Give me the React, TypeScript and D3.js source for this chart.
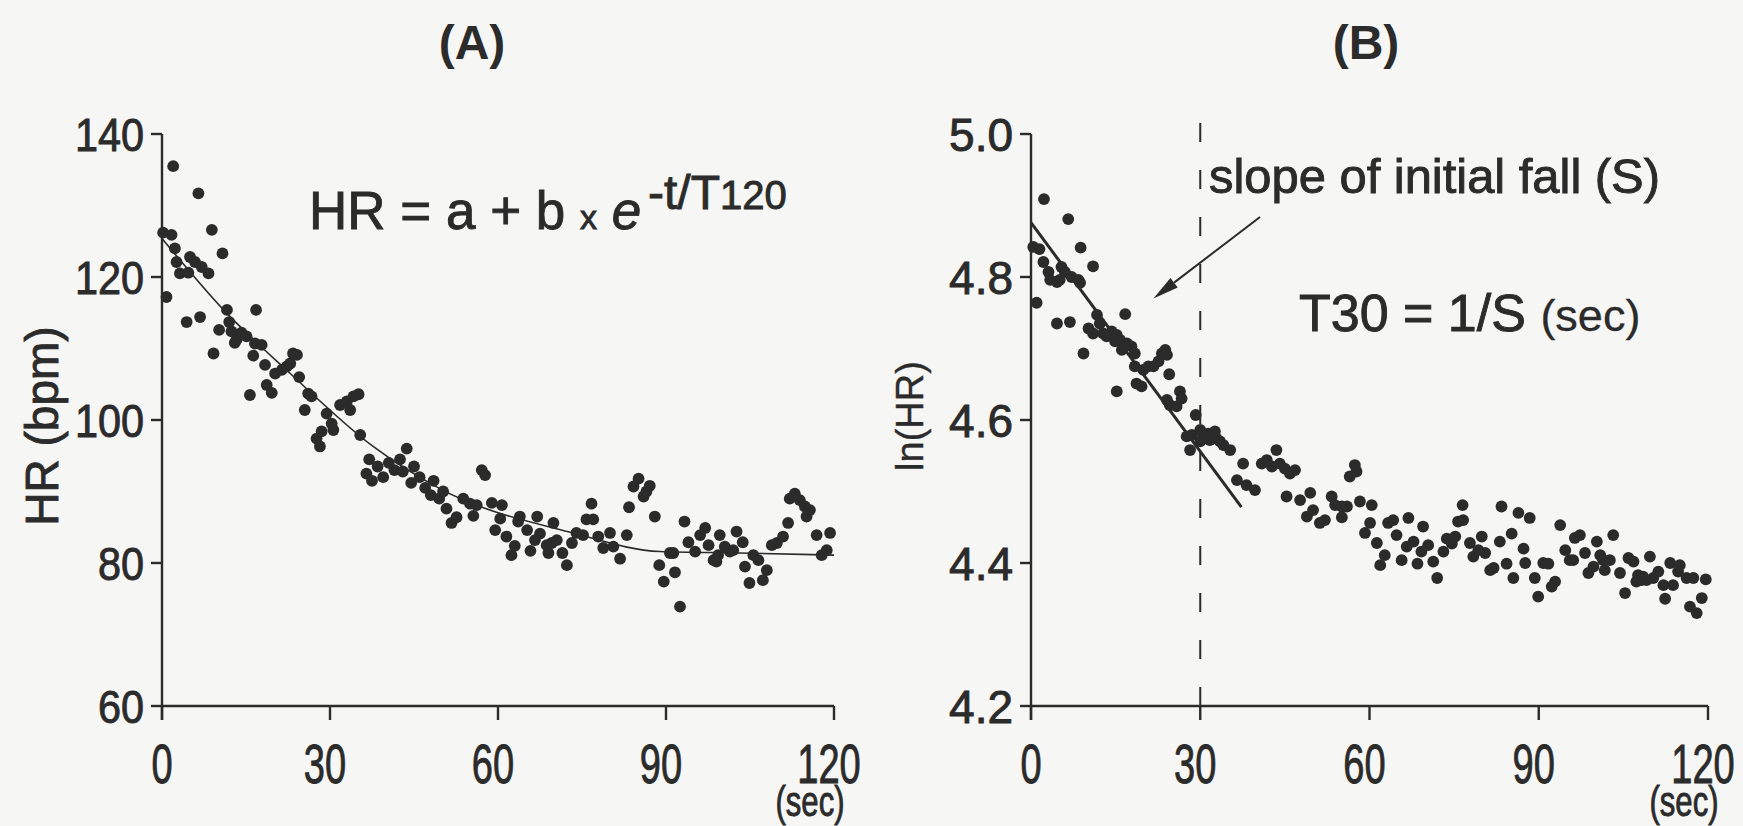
import React from "react";
import * as d3 from "d3";

// ---------- Data ----------
// Panel A: heart rate (bpm) vs time (sec)
const aTime = [
  2.0, 6.5, 8.9, 10.8, 0.2, 1.7, 2.3, 2.6, 3.2, 5.0, 4.7, 5.9, 7.1, 8.3, 0.8, 4.4, 6.8, 9.2, 11.6, 12.0,
  16.8, 10.2, 12.4, 13.3, 14.2, 15.1, 13.0, 16.6, 17.8, 16.3, 18.4, 15.7, 18.7, 19.6, 20.2, 21.4, 22.3, 23.4,
  24.1, 22.9, 24.5, 26.1, 26.7, 25.5, 29.4, 30.3, 30.6, 31.8, 33.0, 34.2, 35.1, 33.6, 35.4, 28.5, 27.6, 28.2,
  43.7, 36.5, 37.5, 38.5, 39.5, 40.5, 41.5, 42.5, 43.0, 44.5, 45.0, 46.0, 47.0, 48.0, 48.5, 49.5, 37.0,
  50.2, 50.8, 51.7, 52.6, 53.8, 55.0, 56.2, 55.6, 57.1, 57.7, 58.9, 60.7, 59.5, 60.4, 61.5, 62.4, 63.0, 63.9,
  63.6, 65.2, 65.8, 67.0, 67.5, 66.6, 69.0, 68.7, 69.9, 69.6, 70.5, 71.5, 72.3, 73.2, 74.0, 75.2, 75.8, 77.0,
  76.7, 77.9, 78.8, 80.0, 80.6, 81.8, 83.0, 83.4, 84.2, 85.1, 86.0, 87.1, 86.5, 88.0, 88.8, 89.6, 90.7, 91.3,
  91.6, 92.5, 93.3, 94.0, 95.2, 96.1, 97.0, 97.6, 98.5, 99.6, 100.5, 101.4, 102.0, 99.3, 99.0, 102.6,
  103.7, 104.1, 104.9, 105.6, 106.5, 107.3, 108.0, 108.9, 109.8, 110.9, 111.8, 112.1, 113.0, 113.9, 114.8,
  115.7, 115.1, 116.9, 119.3, 117.8, 118.7,
];
const aHR = [
  135.5, 131.7, 126.6, 123.3, 126.2, 125.9, 124.0, 122.1, 120.5, 122.8, 120.6, 122.1, 121.4, 120.5, 117.2, 113.7,
  114.4, 109.3, 115.4, 113.7, 115.4, 112.6, 112.4, 111.2, 112.2, 111.7, 110.8, 110.7, 110.5, 109.0, 107.7, 103.5,
  104.9, 103.8, 106.5, 107.0, 107.5, 109.3, 109.1, 107.9, 106.0, 103.7, 103.3, 101.4, 100.9, 99.5, 98.6, 102.1,
  102.6, 103.3, 103.6, 101.4, 97.9, 98.4, 97.4, 96.3,
  96.0, 92.5, 91.5, 93.5, 92.0, 94.0, 93.0, 94.5, 92.8, 91.2, 93.5, 92.0, 90.5, 89.5, 91.5, 89.0, 94.5,
  90.0, 87.6, 85.6, 86.4, 89.0, 88.3, 88.1, 86.6, 93.0, 92.3, 88.4, 88.1, 84.6, 86.2, 83.7, 81.1, 82.4, 86.5,
  85.8, 84.6, 81.7, 86.5, 84.1, 83.2, 81.4, 82.5, 85.6, 82.8, 83.2, 81.4, 79.7, 82.8, 84.2, 83.9, 86.1, 86.1,
  88.3, 83.7, 82.1, 84.2, 82.3, 80.6, 83.9, 87.8, 90.7, 91.8, 89.3, 90.8, 90.0, 86.5, 79.7, 77.4, 81.4, 81.4,
  78.7, 73.9, 85.8, 82.9, 81.6, 83.9, 84.9, 82.5, 80.4, 83.9, 82.3, 81.6, 81.8, 81.1, 80.2, 84.4,
  82.9, 79.5, 77.2, 81.1, 80.4, 77.6, 79.0, 82.5, 82.8, 83.7, 85.6, 89.0, 89.7, 88.8, 87.9,
  87.4, 86.5, 83.9, 84.2, 81.1, 81.8,
];
// fitted exponential curve
const aFitTime = [0, 11, 22.9, 37.7, 49.6, 73.4, 88.9, 103, 120];
const aFitHR = [125.4, 115.4, 106.5, 96.3, 90.4, 84.2, 81.6, 81.4, 81.1];

// Panel B: ln(HR) vs time (sec)
const bTime = [
  2.3, 6.6, 8.8, 11.0, 0.4, 1.5, 2.2, 3.1, 3.4, 4.6, 5.1, 5.4, 6.0, 7.2, 8.4, 8.7, 1.0, 4.6, 6.9, 9.3, 16.7,
  10.2, 11.0, 11.7, 12.2, 12.8, 13.4, 14.3, 15.2, 14.9, 15.8, 16.1, 17.0, 17.8, 18.4, 15.2, 18.4, 18.7, 19.6,
  19.9, 20.8, 21.7, 22.6, 23.2, 23.8, 24.1, 24.5, 24.1, 24.6, 26.4, 26.7, 25.8, 29.2, 27.6, 28.5, 28.2, 30.0,
  30.5, 30.0, 31.4, 31.7, 32.6, 32.9, 33.5, 34.1, 35.3, 36.5, 37.6, 38.2, 39.7, 40.9, 41.8, 43.5, 42.7, 44.1,
  45.0, 45.9, 46.8, 45.3, 47.7, 49.5, 48.9, 50.0, 51.2, 52.1,
  53.3, 53.9, 55.1, 56.0, 55.1, 56.5, 57.4, 57.7, 58.3, 60.4, 59.2, 60.1, 61.3, 62.7, 61.9, 63.3, 64.2, 64.8,
  65.7, 66.9, 66.6, 67.8, 69.5, 69.2, 70.4, 68.5, 71.3, 72.0, 73.1, 73.7, 74.6, 75.2, 75.7, 76.6, 76.5, 77.8,
  78.4, 79.3, 79.9, 80.5, 81.4, 82.0, 83.1, 83.4, 85.2, 84.3, 85.5, 86.4, 87.3, 87.6, 88.4, 89.3, 89.9, 90.8,
  91.7, 92.3, 92.9, 93.8, 94.7, 95.5, 96.1, 96.4, 97.3, 98.2, 98.8, 99.7, 100.3, 100.9, 101.4, 101.7, 102.6,
  103.2, 104.4, 105.3, 105.9, 106.8, 107.6, 107.3, 108.2, 108.5, 109.1, 109.7, 110.3, 111.2, 112.1, 112.4,
  113.8, 113.3, 115.0, 114.7, 116.2, 117.4, 119.6, 116.8, 118.0, 118.9,
];
const bLnHR = [
  4.909, 4.881, 4.841, 4.815, 4.842, 4.839, 4.821, 4.807, 4.796, 4.793, 4.796, 4.814, 4.807, 4.8, 4.796, 4.792,
  4.764, 4.735, 4.737, 4.693, 4.748, 4.728, 4.721, 4.747, 4.735, 4.721, 4.717, 4.724, 4.719, 4.71, 4.712, 4.698,
  4.707, 4.703, 4.693, 4.64, 4.675, 4.651, 4.647, 4.67, 4.675, 4.675, 4.682, 4.693, 4.698, 4.691, 4.664, 4.628,
  4.621, 4.64, 4.63, 4.619, 4.607, 4.577, 4.579, 4.558, 4.586, 4.579, 4.57, 4.581, 4.572, 4.584, 4.574, 4.57,
  4.565, 4.558, 4.516, 4.539, 4.509, 4.502, 4.539, 4.544, 4.558, 4.535, 4.539, 4.532, 4.525, 4.53, 4.493, 4.488,
  4.498, 4.465, 4.474, 4.456, 4.46,
  4.493, 4.481, 4.479, 4.479, 4.464, 4.521, 4.537, 4.528, 4.486, 4.481, 4.442, 4.456, 4.428, 4.411, 4.397, 4.456,
  4.46, 4.439, 4.404, 4.463, 4.423, 4.43, 4.451, 4.416, 4.425, 4.399, 4.402, 4.379, 4.416, 4.434, 4.427, 4.437,
  4.458, 4.46, 4.481, 4.428, 4.409, 4.418, 4.437, 4.414, 4.39, 4.393, 4.43, 4.479, 4.441, 4.399, 4.379, 4.47,
  4.42, 4.4, 4.463, 4.379, 4.353, 4.4, 4.399, 4.367, 4.374, 4.453, 4.418, 4.404, 4.404, 4.435, 4.439, 4.414,
  4.386, 4.395, 4.43, 4.411, 4.404, 4.39, 4.404, 4.439, 4.386, 4.358, 4.407, 4.402, 4.383, 4.374, 4.376, 4.381,
  4.376, 4.409, 4.379, 4.388, 4.369, 4.35, 4.369, 4.4, 4.397, 4.388, 4.379, 4.379, 4.377, 4.339, 4.33, 4.351,
];
// regression line of the initial fall
const bLineTime = [0, 37.3];
const bLineLn = [4.876, 4.478];
// annotation arrow (tail -> tip), in data units of panel B
const arrowTime = [40.6, 21.7];
const arrowLn = [4.884, 4.77];

// ticks
const xTicks = [0, 30, 60, 90, 120];
const aYTicks = [60, 80, 100, 120, 140];
const bYTicks = [4.2, 4.4, 4.6, 4.8, 5.0];

// ---------- Layout ----------
const W = 1743;
const H = 826;
const INK = "#2b2b2b";
const FONT = "'Liberation Sans', Arial, Helvetica, sans-serif";
const HEAVY = { stroke: INK, strokeWidth: 0.9 };

const xA = d3.scaleLinear().domain([0, 120]).range([162, 834]);
const yA = d3.scaleLinear().domain([60, 140]).range([706, 134]);
const xB = d3.scaleLinear().domain([0, 120]).range([1031, 1708]);
const yB = d3.scaleLinear().domain([4.2, 5.0]).range([706, 134]);

type Sc = d3.ScaleLinear<number, number>;

function Axes({
  x,
  y,
  yTicks,
  fmt,
  ySx,
}: {
  x: Sc;
  y: Sc;
  yTicks: number[];
  fmt: (v: number) => string;
  ySx: number;
}) {
  const x0 = x.range()[0];
  const x1 = x.range()[1];
  const yb = y.range()[0];
  const yt = y.range()[1];
  return (
    <g>
      <g stroke={INK} strokeWidth={2.4} fill="none">
        <line x1={x0} y1={yt} x2={x0} y2={yb + 14} />
        <line x1={x0} y1={yb} x2={x1} y2={yb} />
        {yTicks.map((v) => (
          <line key={"yt" + v} x1={x0 - 11} x2={x0} y1={y(v)} y2={y(v)} />
        ))}
        {xTicks.map((v) => (
          <line key={"xt" + v} x1={x(v)} x2={x(v)} y1={yb} y2={yb + 14} />
        ))}
      </g>
      {yTicks.map((v) => (
        <text
          key={"yl" + v}
          transform={`translate(${x0 - 18},${y(v)}) scale(${ySx},1)`}
          dy="0.36em"
          textAnchor="end"
          fontSize={46}
          fill={INK}
          {...HEAVY}
        >
          {fmt(v)}
        </text>
      ))}
      {xTicks.map((v) => (
        <text
          key={"xl" + v}
          transform={`translate(${x(v) - (v === 0 ? 0 : 5)},${yb + 77}) scale(0.68,1)`}
          textAnchor="middle"
          fontSize={56}
          fill={INK}
          {...HEAVY}
        >
          {v}
        </text>
      ))}
      <text
        transform={`translate(${x(120) - 24},${yb + 110}) scale(0.74,1)`}
        textAnchor="middle"
        fontSize={42}
        fill={INK}
        {...HEAVY}
      >
        (sec)
      </text>
    </g>
  );
}

export default function App() {
  const curveA = d3
    .line<number>()
    .x((_, i) => xA(aFitTime[i]))
    .y((d) => yA(d))
    .curve(d3.curveMonotoneX)(aFitHR);

  const ax0 = xB(arrowTime[0]);
  const ay0 = yB(arrowLn[0]);
  const ax1 = xB(arrowTime[1]);
  const ay1 = yB(arrowLn[1]);
  const len = Math.hypot(ax1 - ax0, ay1 - ay0);
  const ux = (ax1 - ax0) / len;
  const uy = (ay1 - ay0) / len;
  const hl = 26;
  const hw = 6;
  const bx = ax1 - ux * hl;
  const by = ay1 - uy * hl;
  const head = `${ax1},${ay1} ${bx - uy * hw},${by + ux * hw} ${bx + uy * hw},${by - ux * hw}`;

  return (
    <svg
      width={W}
      height={H}
      viewBox={`0 0 ${W} ${H}`}
      style={{ position: "absolute", left: 0, top: 0, display: "block" }}
      fontFamily={FONT}
    >
      <rect x={0} y={0} width={W} height={H} fill="#f6f6f4" />

      {/* titles */}
      <text x={472} y={59} textAnchor="middle" fontSize={48} fontWeight="bold" fill={INK}>
        (A)
      </text>
      <text x={1366} y={59} textAnchor="middle" fontSize={48} fontWeight="bold" fill={INK}>
        (B)
      </text>

      {/* Panel A */}
      <Axes x={xA} y={yA} yTicks={aYTicks} fmt={(v) => String(v)} ySx={0.9} />
      <text
        transform={`translate(58,${(yA(140) + yA(60)) / 2 + 6}) rotate(-90)`}
        textAnchor="middle"
        fontSize={46}
        fill={INK}
        {...HEAVY}
      >
        HR (bpm)
      </text>
      <path d={curveA || ""} fill="none" stroke={INK} strokeWidth={1.6} />
      {aTime.map((t, i) => (
        <circle key={"a" + i} cx={xA(t)} cy={yA(aHR[i])} r={5.9} fill={INK} />
      ))}
      <text x={309} y={229} fontSize={53} fill={INK} {...HEAVY}>
        HR = a + b <tspan fontSize={34}>x</tspan> <tspan fontStyle="italic">e</tspan>
      </text>
      <text x={648} y={209} fontSize={48} fill={INK} {...HEAVY}>
        -t/T<tspan fontSize={40}>120</tspan>
      </text>

      {/* Panel B */}
      <Axes x={xB} y={yB} yTicks={bYTicks} fmt={(v) => v.toFixed(1)} ySx={1} />
      <text
        transform={`translate(923,${yB(4.6) - 4}) rotate(-90)`}
        textAnchor="middle"
        fontSize={38}
        fill={INK}
        stroke={INK}
        strokeWidth={0.4}
      >
        ln(HR)
      </text>
      <line
        x1={xB(30)}
        x2={xB(30)}
        y1={yB(5.0) - 11}
        y2={yB(4.2) + 14}
        stroke={INK}
        strokeWidth={2}
        strokeDasharray="19,28"
      />
      {bTime.map((t, i) => (
        <circle key={"b" + i} cx={xB(t)} cy={yB(bLnHR[i])} r={5.9} fill={INK} />
      ))}
      <line
        x1={xB(bLineTime[0])}
        y1={yB(bLineLn[0])}
        x2={xB(bLineTime[1])}
        y2={yB(bLineLn[1])}
        stroke={INK}
        strokeWidth={3}
      />
      <line x1={ax0} y1={ay0} x2={bx} y2={by} stroke={INK} strokeWidth={2} />
      <polygon points={head} fill={INK} />
      <text
        x={1209}
        y={193}
        fontSize={48}
        fill={INK}
        {...HEAVY}
        textLength={451}
        lengthAdjust="spacingAndGlyphs"
      >
        slope of initial fall (S)
      </text>
      <text x={1299} y={331} fontSize={52} fill={INK} {...HEAVY}>
        T30 = 1/S{" "}
        <tspan fontSize={45} strokeWidth={0.3}>
          (sec)
        </tspan>
      </text>
    </svg>
  );
}
